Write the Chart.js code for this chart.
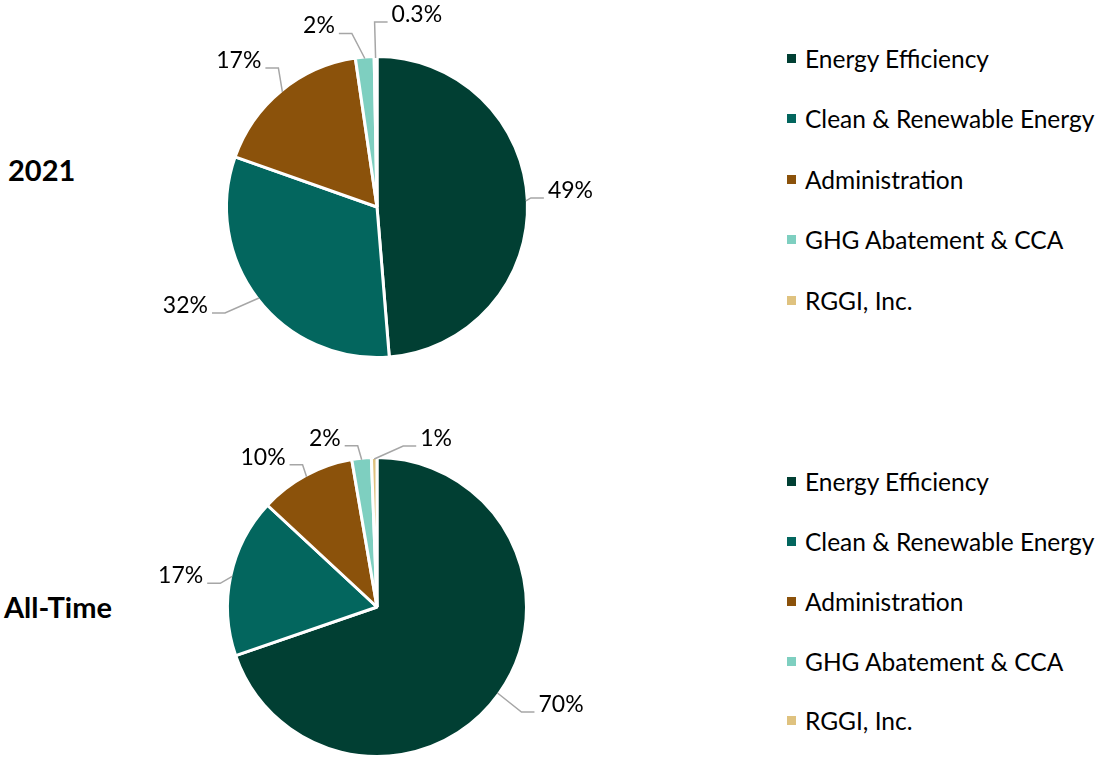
<!DOCTYPE html>
<html>
<head>
<meta charset="utf-8">
<script src="https://cdn.jsdelivr.net/npm/chart.js@4.4.0/dist/chart.umd.min.js"></script>
<style>
	body { margin: 0; width: 1102px; height: 757px; background: #fff; overflow: hidden; position: relative; font-family: Lato, sans-serif; color: #000; }
	canvas { position: absolute; left: 0; }
	.row-label { position: absolute; font-weight: bold; font-size: 29px; line-height: 40px; }
	.legend { position: absolute; left: 787px; }
	.legend-item { display: flex; align-items: center; font-size: 24.5px; white-space: nowrap; }
	.legend-item span.box { width: 9px; height: 9px; margin-right: 9px; display: inline-block; }
</style>
</head>
<body>
<div class="row-label" style="left:8px; top:150px;">2021</div>
<div class="row-label" style="left:4px; top:587px;">All-Time</div>
<canvas id="pie2021" width="754" height="414" style="top:0px;"></canvas>
<canvas id="pieAllTime" width="754" height="414" style="top:400px;"></canvas>
<div class="legend" id="legend2021" style="top:28px;"></div>
<div class="legend" id="legendAllTime" style="top:452px;"></div>
<script>
// Categories and colours
const categories = ['Energy Efficiency', 'Clean & Renewable Energy', 'Administration',
	'GHG Abatement & CCA', 'RGGI, Inc.'];
const colors = ['#013f33', '#03665e', '#8b520b', '#7ecfc0', '#dfc27f'];

// Shares (percent)
const values2021 = [48.7, 31.7, 17.3, 2.0, 0.3];
const valuesAllTime = [69.8, 17.2, 10.4, 2.1, 0.6];

// Label text as printed on the chart
const labels2021 = ['49%', '32%', '17%', '2%', '0.3%'];
const labelsAllTime = ['70%', '17%', '10%', '2%', '1%'];

// Where each label sits relative to the slice's outer edge (dx, dy)
const offsets2021 = [[22, -3], [-51, 15], [-21, -24], [-30, -25], [16, -36]];
const offsetsAllTime = [[41, 19], [-29, 7], [-21, -12], [-21, -14], [46, -13]];

const leaderLabels = {
	id: 'leaderLabels',
	afterDatasetsDraw(chart, args, opts) {
		const ctx = chart.ctx;
		const arcs = chart.getDatasetMeta(0).data;
		ctx.save();
		ctx.font = '23px Lato';
		ctx.fillStyle = '#000';
		ctx.strokeStyle = '#a6a6a6';
		ctx.lineWidth = 1.5;
		for(let i = 0; i < arcs.length; i++) {
			const p = arcs[i].getProps(['x', 'y', 'startAngle', 'endAngle', 'outerRadius']);
			const mid = (p.startAngle + p.endAngle) / 2;
			const r = p.outerRadius - opts.inset;
			const ex = p.x + Math.cos(mid) * r;
			const ey = p.y + Math.sin(mid) * r;
			const ax = ex + opts.offsets[i][0];
			const ay = ey + opts.offsets[i][1];
			const dir = opts.offsets[i][0] > 0 ? 1 : -1;

			ctx.beginPath();
			ctx.moveTo(ex, ey);
			ctx.lineTo(ax - dir * 17, ay);
			ctx.lineTo(ax - dir * 4, ay);
			ctx.stroke();

			ctx.textAlign = dir > 0 ? 'left' : 'right';
			ctx.textBaseline = 'alphabetic';
			ctx.fillText(opts.texts[i], ax, ay);
		}
		ctx.restore();
	}
};

function makePie(canvasId, values, texts, offsets, radius) {
	const context = document.getElementById(canvasId).getContext('2d');
	return new Chart(context, {
		type: 'pie',
		data: {
			labels: categories,
			datasets: [{
				data: values,
				backgroundColor: colors,
				borderColor: '#fff',
				borderWidth: 3,
			}],
		},
		options: {
			responsive: false,
			animation: false,
			devicePixelRatio: 1,
			radius: radius,
			layout: { padding: 0 },
			plugins: {
				legend: { display: false },
				tooltip: { enabled: false },
				leaderLabels: { texts: texts, offsets: offsets, inset: 1.5 },
			},
		},
		plugins: [leaderLabels],
	});
}

function makeLegend(elemId, rowHeight) {
	const legend = document.getElementById(elemId);
	for(let i = 0; i < categories.length; i++) {
		const item = document.createElement('div');
		item.className = 'legend-item';
		item.style.height = rowHeight + 'px';
		const box = document.createElement('span');
		box.className = 'box';
		box.style.background = colors[i];
		item.appendChild(box);
		item.appendChild(document.createTextNode(categories[i]));
		legend.appendChild(item);
	}
}

makePie('pie2021', values2021, labels2021, offsets2021, 150.5);
makePie('pieAllTime', valuesAllTime, labelsAllTime, offsetsAllTime, 149.5);
makeLegend('legend2021', 60.5);
makeLegend('legendAllTime', 59.75);
</script>
</body>
</html>
